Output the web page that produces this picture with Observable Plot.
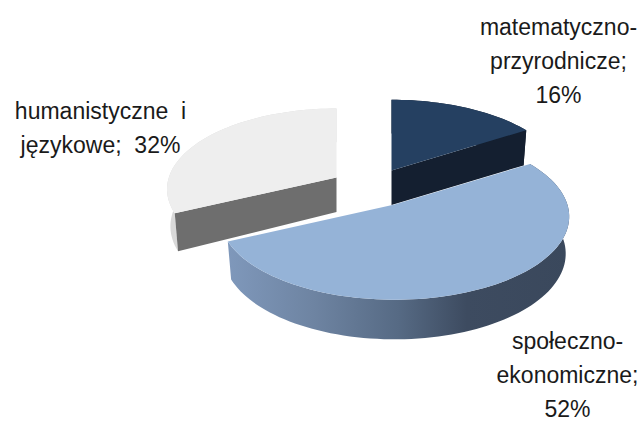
<!DOCTYPE html>
<html>
<head>
<meta charset="utf-8">
<script src="https://cdn.jsdelivr.net/npm/d3@7"></script>
<script src="https://cdn.jsdelivr.net/npm/@observablehq/plot@0.6"></script>
<style>html,body{margin:0;padding:0;background:#fff}svg{display:block}</style>
</head>
<body>
<div id="chart"></div>
<script>
// Data
const categories = ["matematyczno-\nprzyrodnicze;", "społeczno-\nekonomiczne;", "humanistyczne  i\njęzykowe;"];
const values = [16, 52, 32];
const valueGlue = ["\n", "\n", "  "];

// Styling of each slice: top, inner face, wall
const topColors = ["#254061", "#95b3d7", "#eeeeee"];
const faceColors = ["#141f30", "none", "#6e6e6e"];
const wallColors = ["#141f30", "url(#wallBlue)", "#d9d9d9"];

// Layout: projected apex and radius factor of each slice, label anchor (last line)
const apexX = [391, 394, 336], apexY = [170, 204, 177];
const radiusFactor = [1, 1.005, 0.975];
const labelX = [558, 567, 100], labelY = [102, 416, 152];
const rx = 172, ry = 81, persp = 0.145, depth = 36, shrink = 0.98;

function project(s, deg, lower) {
  const t = deg * Math.PI / 180;
  const d = 1 + persp * Math.cos(t);
  const k = lower ? shrink : 1;
  return {
    x: s.cx + k * s.r * rx * Math.sin(t) / d,
    y: s.cy - s.r * ry * Math.cos(t) / d + (lower ? depth * (1.02 - 0.08 * Math.cos(t)) : 0)
  };
}
function arc(s, a0, a1, lower) {
  const n = Math.max(2, Math.ceil(Math.abs(a1 - a0) / 2));
  return d3.range(n + 1).map(i => project(s, a0 + (a1 - a0) * i / n, lower));
}
const face = (pts, fill) => Plot.line(pts, {x: "x", y: "y", fill, stroke: "none"});

const total = d3.sum(values);
let acc = 0;
const slices = values.map((v, i) => {
  const a0 = acc / total * 360;
  acc += v;
  return {i, a0, a1: acc / total * 360, cx: apexX[i], cy: apexY[i], r: radiusFactor[i]};
});

function sliceMarks(s) {
  const {cx, cy, a0, a1, i} = s;
  const m = [face([...arc(s, a0, a1, false), ...arc(s, a1, a0, true)], wallColors[i])];
  if (faceColors[i] !== "none") {
    const end = i === 0 ? a1 : a0; // the cut that faces the viewer
    m.push(face([{x: cx, y: cy}, project(s, end, false), project(s, end, true), {x: cx, y: cy + depth * 0.96}], faceColors[i]));
  }
  m.push(face([{x: cx, y: cy}, ...arc(s, a0, a1, false)], topColors[i]));
  return m;
}

const labels = categories.map((c, i) => ({
  text: `${c}${valueGlue[i]}${values[i]}%`,
  x: labelX[i], y: labelY[i]
}));

const defs = () => {
  const d = d3.create("svg:defs");
  const g = d.append("linearGradient").attr("id", "wallBlue").attr("x1", 0).attr("x2", 1).attr("y1", 0).attr("y2", 0);
  [[0, "#7f98bb"], [0.25, "#6e84a2"], [0.5, "#566a84"], [0.7, "#3d4b60"], [1, "#3a485c"]]
    .forEach(([o, c]) => g.append("stop").attr("offset", o).attr("stop-color", c));
  return d.node();
};

const order = [0, 2, 1];
const chart = Plot.plot({
  width: 641, height: 421,
  margin: 0,
  x: {domain: [0, 641], range: [0, 641], axis: null},
  y: {domain: [0, 421], range: [0, 421], axis: null},
  style: {background: "#fff"},
  marks: [
    defs,
    ...order.flatMap(i => sliceMarks(slices[i])),
    Plot.text(labels, {
      x: "x", y: "y", text: "text",
      textAnchor: "middle", lineAnchor: "bottom", lineHeight: 1.46,
      fontFamily: "Liberation Sans, Arial, sans-serif", fontSize: 23, fill: "#1a1a1a"
    })
  ]
});
document.getElementById("chart").append(chart);
</script>
</body>
</html>
